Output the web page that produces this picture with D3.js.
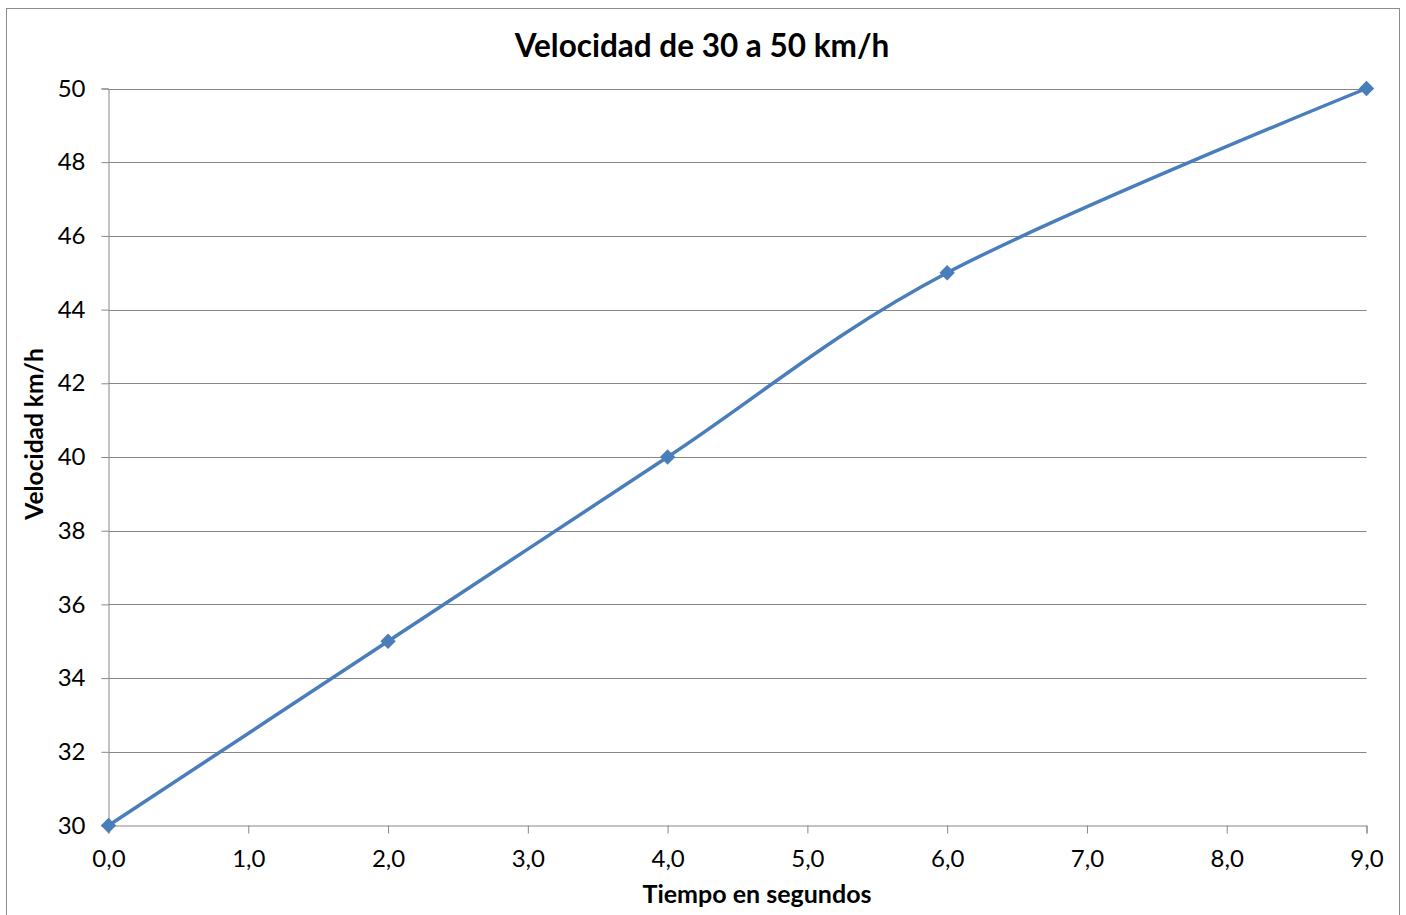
<!DOCTYPE html>
<html><head><meta charset="utf-8">
<script src="https://cdn.jsdelivr.net/npm/d3@7"></script>
<style>body{margin:0;background:#fff}svg{display:block}text{font-family:Lato,"Open Sans",sans-serif;fill:#000}</style>
</head><body><svg id="c" width="1406" height="915"></svg>
<script>
const times = [0, 2, 4, 6, 9];
const speeds = [30, 35, 40, 45, 50];
const xTicks = [0,1,2,3,4,5,6,7,8,9];
const yTicks = [30,32,34,36,38,40,42,44,46,48,50];
const title = "Velocidad de 30 a 50 km/h";
const xTitle = "Tiempo en segundos";
const yTitle = "Velocidad km/h";

const svg = d3.select("#c");
svg.append("rect").attr("x",6.5).attr("y",8.5).attr("width",1393).attr("height",920)
  .attr("fill","#fff").attr("stroke","#8c8c8c").attr("stroke-width",1);

const L=108.5, R=1366.5, T=88.5, B=825.5;
const x = d3.scaleLinear().domain([0,9]).range([L,R]);
const y = d3.scaleLinear().domain([30,50]).range([B,T]);
const grey="#868686";

svg.append("g").selectAll("line").data(yTicks.filter(d=>d>30)).join("line")
  .attr("x1",L).attr("x2",R).attr("y1",d=>Math.round(y(d))+0.5).attr("y2",d=>Math.round(y(d))+0.5)
  .attr("stroke",grey).attr("stroke-width",1);

const ya = svg.append("g").attr("transform",`translate(${L},0)`)
  .call(d3.axisLeft(y).tickValues(yTicks).tickSize(7).tickPadding(16).tickFormat(d3.format("d")));
ya.select(".domain").attr("stroke",grey);
ya.selectAll(".tick line").attr("stroke",grey);
ya.selectAll("text").attr("font-size",24).attr("fill","#000").style("font-family","Lato");

const xa = svg.append("g").attr("transform",`translate(0,${B})`)
  .call(d3.axisBottom(x).tickValues(xTicks).tickSize(8).tickPadding(16).tickFormat(d=>d3.format(".1f")(d).replace(".",",")));
xa.select(".domain").attr("stroke",grey);
xa.selectAll(".tick line").attr("stroke",grey);
xa.selectAll("text").attr("font-size",24).attr("fill","#000").style("font-family","Lato");

const data = times.map((t,i)=>({t, v:speeds[i]}));
svg.append("path").datum(data)
  .attr("d", d3.line().x(d=>x(d.t)).y(d=>y(d.v)).curve(d3.curveCardinal.tension(0)))
  .attr("fill","none").attr("stroke","#4a7ebb").attr("stroke-width",3.5);
svg.append("g").selectAll("path").data(data).join("path")
  .attr("d", d3.symbol(d3.symbolDiamond2, 150)())
  .attr("transform", d=>`translate(${x(d.t)},${y(d.v)})`)
  .attr("fill","#4a7ebb");

svg.append("text").attr("x",702).attr("y",57).attr("text-anchor","middle")
  .attr("font-size",31.5).attr("font-weight","bold").text(title);
svg.append("text").attr("x",757).attr("y",903).attr("text-anchor","middle")
  .attr("font-size",25).attr("font-weight","bold").text(xTitle);
svg.append("text").attr("transform","translate(43,434) rotate(-90)").attr("text-anchor","middle")
  .attr("font-size",24.5).attr("font-weight","bold").text(yTitle);
</script></body></html>
